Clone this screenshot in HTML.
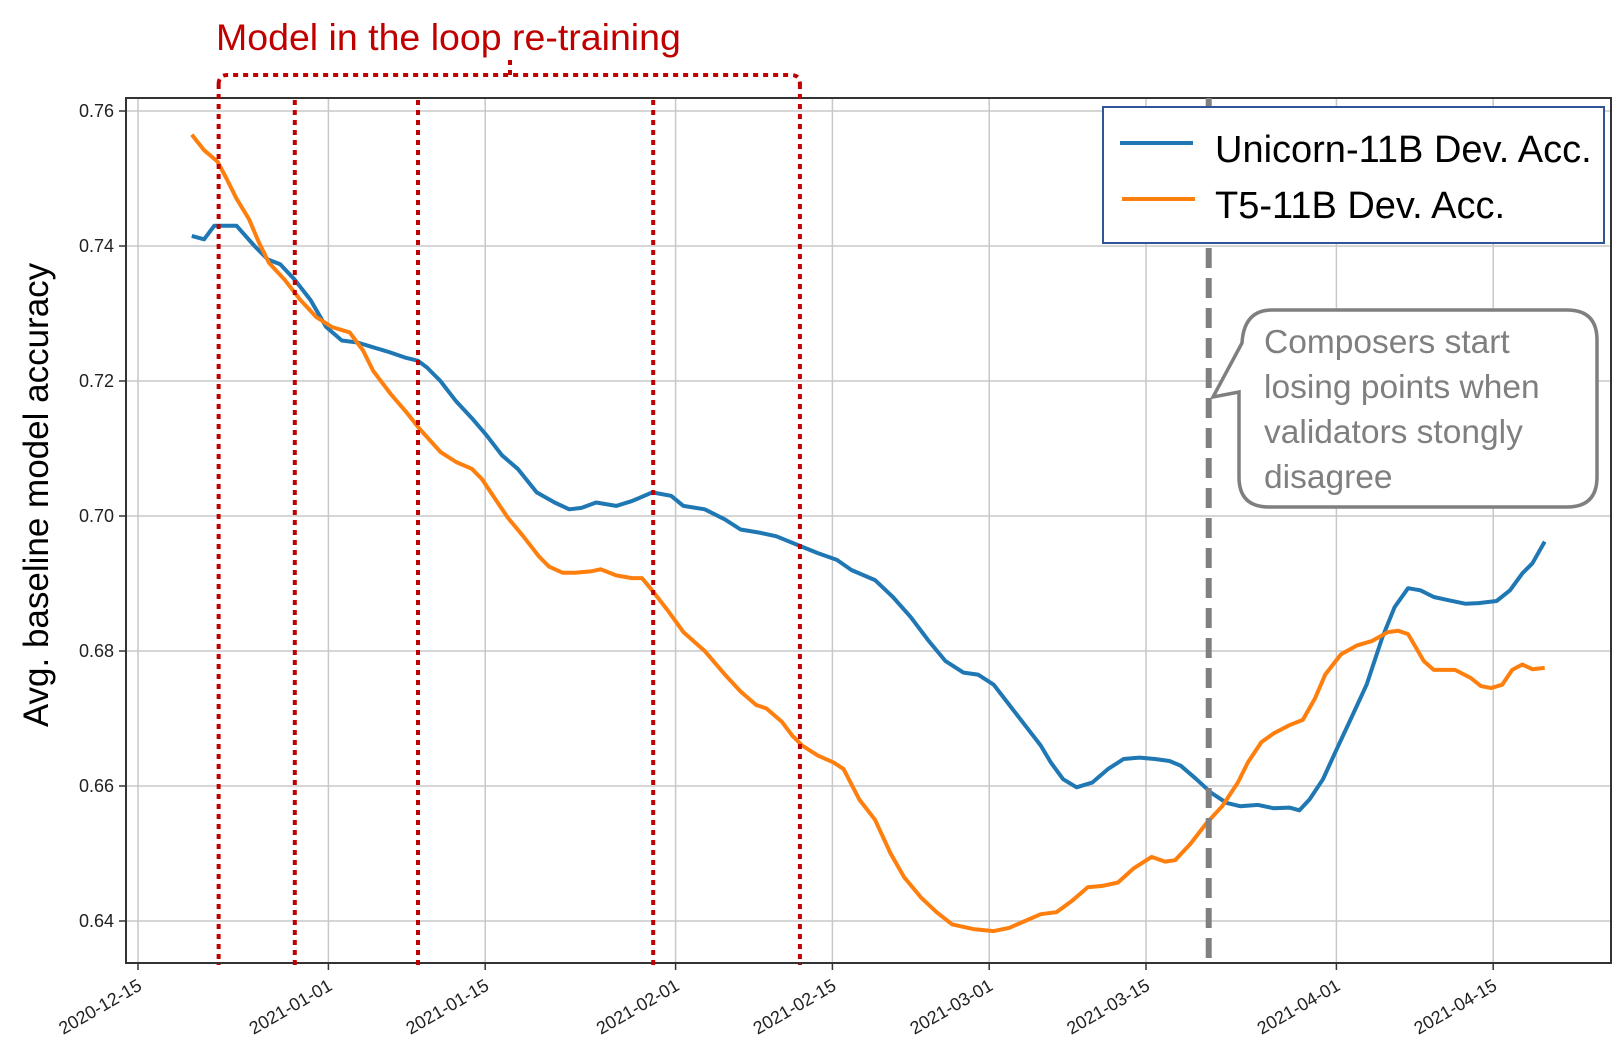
<!DOCTYPE html>
<html><head><meta charset="utf-8"><style>
html,body{margin:0;padding:0;background:#fff;}
svg{display:block;font-family:"Liberation Sans",sans-serif;}
</style></head><body>
<svg id="chart" width="1624" height="1052" viewBox="0 0 1624 1052" xmlns="http://www.w3.org/2000/svg"></svg>
<script>
const xTickDays = [0, 17, 31, 48, 62, 76, 90, 107, 121];
const xTickLabels = ["2020-12-15","2021-01-01","2021-01-15","2021-02-01","2021-02-15","2021-03-01","2021-03-15","2021-04-01","2021-04-15"];
const yTicks = [0.64, 0.66, 0.68, 0.70, 0.72, 0.74, 0.76];
const yTickLabels = ["0.64","0.66","0.68","0.70","0.72","0.74","0.76"];
const retrainDays = [7.2, 14.0, 25.0, 46.0, 59.1];
const markerDay = 95.6;
const blueDays = [4.8,5.9,6.8,8.8,10.4,11.6,12.7,14.0,15.4,16.8,18.2,19.6,21.0,22.4,23.8,25.0,25.8,27.0,28.4,29.8,31.1,32.5,33.9,35.6,37.2,38.5,39.6,40.9,42.7,44.1,45.9,47.6,48.7,50.6,52.4,53.8,55.6,57.0,58.9,60.7,62.4,63.7,65.8,67.4,69.0,70.6,72.1,73.7,75.0,76.4,77.8,79.2,80.6,81.5,82.6,83.8,85.2,86.6,88.0,89.4,90.8,92.1,93.1,94.5,95.8,97.2,98.4,100.0,101.4,102.8,103.7,104.6,105.8,106.9,108.3,109.7,111.1,112.2,113.4,114.5,115.7,117.1,118.5,119.7,121.3,122.5,123.6,124.5,125.6];
const blueVals = [.7415,.741,.743,.743,.740,.738,.7373,.735,.732,.728,.726,.7257,.725,.7243,.7235,.723,.722,.720,.717,.7145,.712,.709,.707,.7035,.702,.701,.7012,.702,.7015,.7022,.7035,.703,.7015,.701,.6995,.698,.6975,.697,.6957,.6945,.6935,.692,.6905,.688,.685,.6815,.6785,.6768,.6765,.675,.672,.669,.666,.6635,.661,.6598,.6605,.6625,.664,.6642,.664,.6637,.663,.661,.659,.6575,.657,.6572,.6567,.6568,.6564,.658,.661,.665,.670,.675,.682,.6865,.6893,.689,.688,.6875,.687,.6871,.6874,.689,.6915,.693,.6962];
const orangeDays = [4.8,5.9,7.1,7.9,8.8,9.9,10.8,11.7,13.1,14.5,15.9,17.3,18.9,20.1,21.0,22.6,23.9,25.1,27.0,28.4,29.8,30.7,31.9,33.0,34.4,35.8,36.7,37.9,39.0,40.4,41.3,42.7,44.1,45.0,45.9,47.3,48.7,50.6,52.4,53.8,55.2,56.1,57.5,58.4,59.3,60.7,62.1,63.0,64.4,65.8,67.2,68.4,69.9,71.3,72.7,74.6,76.4,77.8,79.2,80.6,82.0,83.4,84.8,86.1,87.5,88.9,90.5,91.7,92.6,94.0,95.4,96.8,98.2,99.1,100.3,101.4,102.8,104.0,105.1,106.0,107.4,108.8,110.2,111.6,112.5,113.4,114.8,115.7,117.6,119.0,119.9,120.8,121.8,122.7,123.6,124.5,125.6];
const orangeVals = [.7565,.7542,.7525,.750,.747,.744,.7405,.7375,.735,.732,.7295,.728,.7272,.7245,.7215,.718,.7155,.713,.7095,.708,.707,.7055,.7025,.6998,.697,.694,.6925,.6916,.6916,.6918,.6921,.6912,.6908,.6908,.689,.686,.6828,.680,.6765,.674,.672,.6715,.6695,.6675,.666,.6645,.6635,.6625,.658,.655,.650,.6465,.6435,.6413,.6395,.6388,.6385,.639,.640,.641,.6413,.643,.645,.6452,.6457,.6478,.6495,.6488,.649,.6515,.6545,.657,.6605,.6635,.6665,.6678,.669,.6698,.673,.6765,.6795,.6808,.6815,.6828,.683,.6825,.6785,.6772,.6772,.676,.6748,.6745,.675,.6772,.678,.6773,.6775];

const NS = "http://www.w3.org/2000/svg";
const svg = document.getElementById('chart');
const L = 126, R = 1611, T = 98, B = 963;
const xS = d => 138 + d * 11.2;
const yS = v => 111 + (0.76 - v) / 0.02 * 135;
function mk(tag, attrs, parent) {
  const e = document.createElementNS(NS, tag);
  for (const k in attrs) e.setAttribute(k, attrs[k]);
  (parent || svg).appendChild(e);
  return e;
}
xTickDays.forEach((d, i) => {
  const g = mk('line', {x1: xS(d), x2: xS(d), y1: T, y2: B, stroke: '#c8c8c8', 'stroke-width': 1.5});
  
  
  const tk = mk('line', {x1: xS(d), x2: xS(d), y1: B, y2: B + 7, stroke: '#333', 'stroke-width': 1.5});
  
  
  const t = mk('text', {x: xS(d) + 5, y: B + 26, 'font-size': 18, fill: '#222', 'text-anchor': 'end', transform: `rotate(-30 ${xS(d) + 5} ${B + 26})`});
  t.textContent = xTickLabels[i];
  
  
});
yTicks.forEach((v, i) => {
  const g = mk('line', {x1: L, x2: R, y1: yS(v), y2: yS(v), stroke: '#c8c8c8', 'stroke-width': 1.5});
  
  
  const tk = mk('line', {x1: L - 7, x2: L, y1: yS(v), y2: yS(v), stroke: '#333', 'stroke-width': 1.5});
  
  
  const t = mk('text', {x: L - 12, y: yS(v) + 6, 'font-size': 18, fill: '#222', 'text-anchor': 'end'});
  t.textContent = yTickLabels[i];
  
  
});
const frame = mk('rect', {x: L, y: T, width: R - L, height: B - T, fill: 'none', stroke: '#333', 'stroke-width': 2});



function series(days, vals, color, name) {
  const p = mk('polyline', {points: days.map((d, i) => xS(d).toFixed(1) + ',' + yS(vals[i]).toFixed(1)).join(' '), fill: 'none', stroke: color, 'stroke-width': 4, 'stroke-linejoin': 'round'});
  
  
}
series(blueDays, blueVals, '#1f77b4', 'unicorn-line');
series(orangeDays, orangeVals, '#ff7f0e', 't5-line');

retrainDays.forEach((d, i) => {
  const top = (i === 0 || i === retrainDays.length - 1) ? 84 : T + 2;
  const l = mk('line', {x1: xS(d), x2: xS(d), y1: top, y2: B + 2, stroke: '#c00000', 'stroke-width': 4, 'stroke-dasharray': '5 5'});
  
  
});
const x0 = xS(retrainDays[0]), x1 = xS(retrainDays[retrainDays.length - 1]);
const br = mk('path', {d: `M${x0},84 Q${x0},75 ${x0 + 9},75 L${x1 - 9},75 Q${x1},75 ${x1},84 M510,75 L510,57`, fill: 'none', stroke: '#c00000', 'stroke-width': 4, 'stroke-dasharray': '5 5'});



const gm = mk('line', {x1: xS(markerDay), x2: xS(markerDay), y1: T, y2: B, stroke: '#808080', 'stroke-width': 6, 'stroke-dasharray': '20 10'});


</script>
<svg style="position:absolute;left:0;top:0" width="1624" height="1052">
  <text x="216" y="50" font-size="37.5" fill="#c00000" font-family="Liberation Sans, sans-serif">Model in the loop re-training</text>
  <text transform="translate(48 495) rotate(-90)" text-anchor="middle" font-size="35" fill="#000" font-family="Liberation Sans, sans-serif">Avg. baseline model  accuracy</text>
  <g>
    <rect x="1103" y="107" width="501" height="136" fill="#fff" stroke="#2f5597" stroke-width="2"/>
    <line x1="1120" y1="143" x2="1193" y2="143" stroke="#1f77b4" stroke-width="4"/>
    <text x="1215" y="162" font-size="38" fill="#000" font-family="Liberation Sans, sans-serif">Unicorn-11B Dev. Acc.</text>
    <line x1="1122" y1="199" x2="1195" y2="199" stroke="#ff7f0e" stroke-width="4"/>
    <text x="1215" y="218" font-size="38" fill="#000" font-family="Liberation Sans, sans-serif">T5-11B Dev. Acc.</text>
  </g>
  <g>
    <path d="M1272,310 L1567,310 Q1597,310 1597,340 L1597,477 Q1597,507 1567,507 L1269,507 Q1239,507 1239,477 L1239,392 L1213,397 L1242,343 Q1244,310 1272,310 Z" fill="#fff" stroke="#7f7f7f" stroke-width="3.5"/>
    <g font-size="33.5" fill="#7f7f7f" font-family="Liberation Sans, sans-serif">
      <text x="1264" y="353">Composers start</text>
      <text x="1264" y="398">losing points when</text>
      <text x="1264" y="443">validators stongly</text>
      <text x="1264" y="488">disagree</text>
    </g>
  </g>
</svg>
</body></html>
